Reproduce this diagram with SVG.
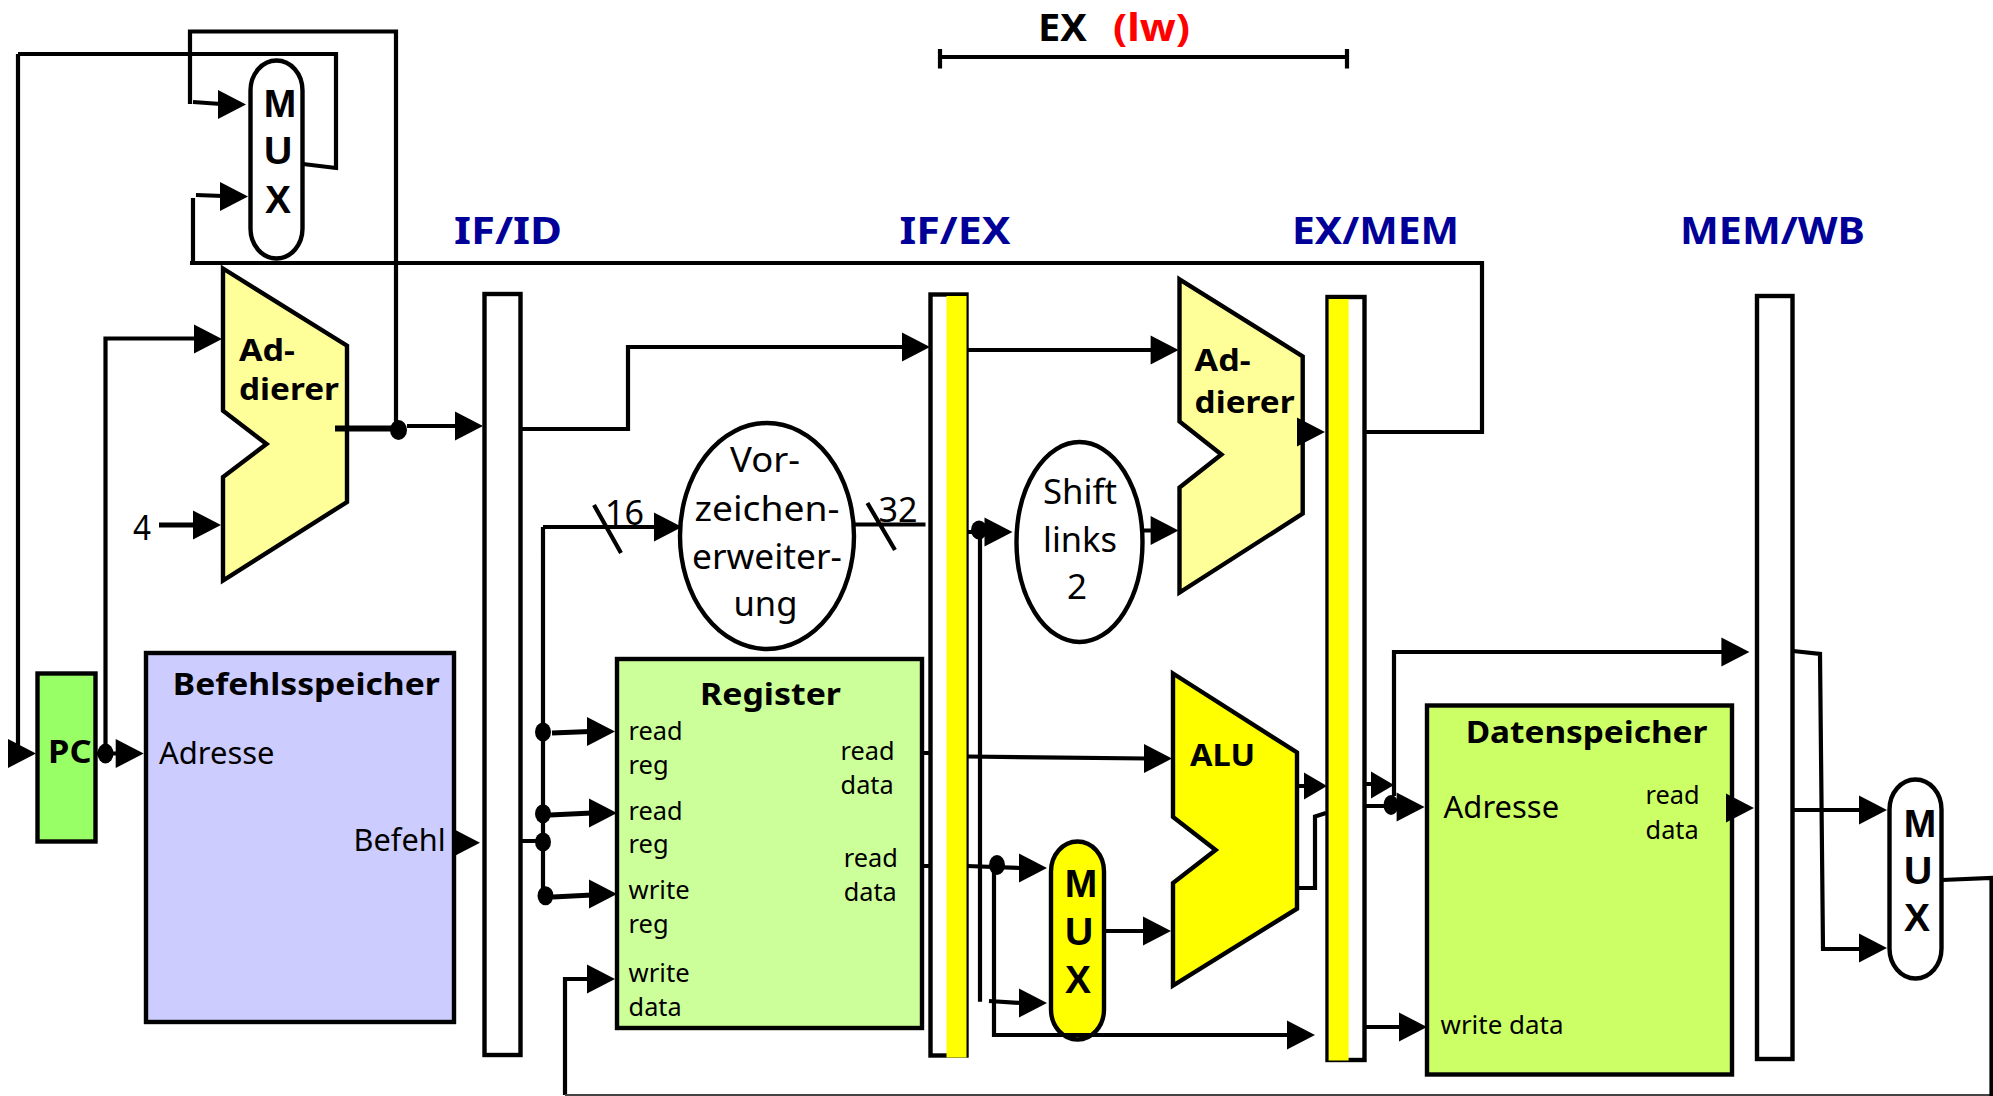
<svg xmlns="http://www.w3.org/2000/svg" width="1993" height="1096" viewBox="0 0 1993 1096">
<style>
text{font-family:"Noto Sans","Liberation Sans",sans-serif;fill:#000}
.b{font-weight:700}
.s{fill:none;stroke:#000;stroke-width:4.200}
.t{fill:none;stroke:#000;stroke-width:6}
.n{stroke:#000;stroke-width:4.400;fill:#fff}
.lb{font-weight:700;font-size:38px;fill:#000099}
.mx{font-family:"Liberation Sans",sans-serif;font-weight:700;font-size:39px;text-anchor:middle}
.f26{font-size:26px}
.f30{font-size:30px}
.f35{font-size:35px}
.h{font-weight:700;font-size:31px}
.c{text-anchor:middle}
.dot{fill:#000}
</style>
<defs>
<polygon id="ah" points="-28,-14.500 0,0 -28,14.500" fill="#000"/>
<polygon id="ahs" points="-23,-13.500 0,0 -23,13.500" fill="#000"/>
</defs>
<rect width="1993" height="1096" fill="#fff"/>

<g id="phase-ex">
<text class="b" x="1038" y="41" font-size="38" textLength="49" lengthAdjust="spacingAndGlyphs">EX</text>
<text class="b" x="1113" y="41" font-size="38" textLength="77" lengthAdjust="spacingAndGlyphs" style="fill:#ff0000">(lw)</text>
<path class="s" d="M940 57H1347M940 49V68.500M1347 49V68.500"/>
</g>

<g id="label-if-id"><text class="lb" x="454" y="243.500" textLength="108" lengthAdjust="spacingAndGlyphs">IF/ID</text></g>
<g id="label-if-ex"><text class="lb" x="899.500" y="243.500" textLength="111" lengthAdjust="spacingAndGlyphs">IF/EX</text></g>
<g id="label-ex-mem"><text class="lb" x="1292" y="243.500" textLength="167" lengthAdjust="spacingAndGlyphs">EX/MEM</text></g>
<g id="label-mem-wb"><text class="lb" x="1680" y="243.500" textLength="185" lengthAdjust="spacingAndGlyphs">MEM/WB</text></g>

<g id="mux-pc">
<rect class="n" x="250.500" y="60.500" width="52" height="198" rx="26" ry="30"/>
<text class="mx" x="280" y="117">M</text><text class="mx" x="278" y="164">U</text><text class="mx" x="278" y="212.500">X</text>
</g>

<g id="adder-if">
<polygon class="n" style="fill:#ffff99" points="223,268.500 347,345.700 347,502 223,580.500 223,477 266.500,444 223,410.700"/>
<text class="h" x="239" y="360.700" textLength="56" lengthAdjust="spacingAndGlyphs">Ad-</text>
<text class="h" x="239" y="400" textLength="100" lengthAdjust="spacingAndGlyphs">dierer</text>
</g>

<g id="pc">
<rect class="n" style="fill:#99ff66" x="37.500" y="673.500" width="58" height="168"/>
<text class="b" x="48" y="763.400" font-size="32" textLength="43.500" lengthAdjust="spacingAndGlyphs">PC</text>
</g>

<g id="befehlsspeicher">
<rect class="n" style="fill:#ccccff" x="146" y="653" width="308" height="369"/>
<text class="h" x="172.800" y="695" textLength="267" lengthAdjust="spacingAndGlyphs">Befehlsspeicher</text>
<text class="f30" x="159" y="764.400" textLength="115.500" lengthAdjust="spacingAndGlyphs">Adresse</text>
<text class="f30" x="353.600" y="851" textLength="92" lengthAdjust="spacingAndGlyphs">Befehl</text>
</g>

<g id="reg-if-id"><rect class="n" x="484.500" y="294" width="36" height="761"/></g>

<g id="vorzeichen">
<ellipse class="n" cx="767" cy="536" rx="87" ry="113"/>
<text class="f35" x="730" y="472" textLength="70" lengthAdjust="spacingAndGlyphs">Vor-</text>
<text class="f35" x="694.500" y="520.500" textLength="145" lengthAdjust="spacingAndGlyphs">zeichen-</text>
<text class="f35" x="692" y="568.500" textLength="150" lengthAdjust="spacingAndGlyphs">erweiter-</text>
<text class="f35" x="733.500" y="616" textLength="64" lengthAdjust="spacingAndGlyphs">ung</text>
</g>

<g id="register">
<rect class="n" style="fill:#ccff99" x="617" y="659" width="305" height="369"/>
<text class="h" x="700" y="704.600" textLength="141" lengthAdjust="spacingAndGlyphs">Register</text>
<text class="f26" x="628.600" y="739.500" textLength="54" lengthAdjust="spacingAndGlyphs">read</text>
<text class="f26" x="628.600" y="773.700" textLength="40" lengthAdjust="spacingAndGlyphs">reg</text>
<text class="f26" x="628.600" y="820" textLength="54" lengthAdjust="spacingAndGlyphs">read</text>
<text class="f26" x="628.600" y="853.300" textLength="40" lengthAdjust="spacingAndGlyphs">reg</text>
<text class="f26" x="628.600" y="899" textLength="61" lengthAdjust="spacingAndGlyphs">write</text>
<text class="f26" x="628.600" y="933" textLength="40" lengthAdjust="spacingAndGlyphs">reg</text>
<text class="f26" x="628.600" y="982" textLength="61" lengthAdjust="spacingAndGlyphs">write</text>
<text class="f26" x="628.600" y="1016" textLength="53" lengthAdjust="spacingAndGlyphs">data</text>
<text class="f26" x="840.600" y="760" textLength="54" lengthAdjust="spacingAndGlyphs">read</text>
<text class="f26" x="840.600" y="794" textLength="53" lengthAdjust="spacingAndGlyphs">data</text>
<text class="f26" x="843.800" y="866.700" textLength="54" lengthAdjust="spacingAndGlyphs">read</text>
<text class="f26" x="843.800" y="901" textLength="53" lengthAdjust="spacingAndGlyphs">data</text>
</g>

<g id="reg-if-ex">
<rect class="n" x="930.500" y="294.500" width="36" height="761"/>
<rect x="946.500" y="296" width="20" height="761.500" fill="#ffff00"/>
</g>

<g id="shift">
<ellipse class="n" cx="1079.500" cy="542" rx="63" ry="100"/>
<text class="f35" x="1043" y="504.300" textLength="74" lengthAdjust="spacingAndGlyphs">Shift</text>
<text class="f35" x="1043" y="552" textLength="74" lengthAdjust="spacingAndGlyphs">links</text>
<text class="f35 c" x="1077" y="599">2</text>
</g>

<g id="adder-ex">
<polygon class="n" style="fill:#ffff99" points="1179.500,279.300 1302.700,356.400 1302.700,513.600 1179.500,592.500 1179.500,487.500 1221.400,454.600 1179.500,421.400"/>
<text class="h" x="1194.600" y="371.400" textLength="56" lengthAdjust="spacingAndGlyphs">Ad-</text>
<text class="h" x="1194.600" y="412.500" textLength="100" lengthAdjust="spacingAndGlyphs">dierer</text>
</g>

<g id="alu">
<polygon class="n" style="fill:#ffff00" points="1173,673.500 1297,752.500 1297,908.700 1173,985.600 1173,883 1215.600,850 1173,817"/>
<text class="h" x="1190" y="766" font-size="32" textLength="65" lengthAdjust="spacingAndGlyphs">ALU</text>
</g>

<g id="mux-alu">
<rect class="n" style="fill:#ffff00" x="1051" y="841.500" width="53" height="198" rx="26.500" ry="30"/>
<text class="mx" x="1081" y="897.400">M</text><text class="mx" x="1079" y="945">U</text><text class="mx" x="1078" y="993">X</text>
</g>

<g id="reg-ex-mem">
<rect class="n" x="1327.500" y="297" width="37" height="763"/>
<rect x="1328.600" y="299" width="20" height="761.500" fill="#ffff00"/>
</g>

<g id="datenspeicher">
<rect class="n" style="fill:#ccff66" x="1427" y="705.500" width="305" height="369"/>
<text class="h" x="1465.700" y="743" textLength="241.700" lengthAdjust="spacingAndGlyphs">Datenspeicher</text>
<text class="f30" x="1443.600" y="818" textLength="115.500" lengthAdjust="spacingAndGlyphs">Adresse</text>
<text class="f26" x="1645.600" y="804.400" textLength="54" lengthAdjust="spacingAndGlyphs">read</text>
<text class="f26" x="1645.600" y="838.600" textLength="53" lengthAdjust="spacingAndGlyphs">data</text>
<text class="f26" x="1440.500" y="1033.500" textLength="123" lengthAdjust="spacingAndGlyphs">write data</text>
</g>

<g id="reg-mem-wb"><rect class="n" x="1757" y="296" width="35.500" height="763"/></g>

<g id="mux-wb">
<rect class="n" x="1889.500" y="779.500" width="52" height="199" rx="26" ry="30"/>
<text class="mx" x="1920" y="837">M</text><text class="mx" x="1918" y="884">U</text><text class="mx" x="1917" y="931">X</text>
</g>

<g id="constant-labels">
<text class="f35" x="133" y="540" textLength="18" lengthAdjust="spacingAndGlyphs">4</text>
<text class="f35" x="605" y="525" textLength="39" lengthAdjust="spacingAndGlyphs">16</text>
<text class="f35" x="878.600" y="522" textLength="39" lengthAdjust="spacingAndGlyphs">32</text>
</g>

<g id="connectors">
<path class="s" d="M190 31.500H396V428M190 29.500V104M193 102L221 104"/>
<path class="s" d="M18 54H336V168L303 164M18 54V753H12"/>
<path class="s" d="M193 262V198M196 195L223 196"/>
<path class="s" d="M190 263H1482V432H1365"/>
<path class="s" d="M105.500 753.500V338.500H197M96 753.500H118"/>
<path class="t" d="M335 428.500H392"/>
<path class="s" d="M407 426H459M521 429H628V347H905"/>
<path class="t" style="stroke-width:5" d="M159 525H195"/>
<path class="s" d="M521 841H543M543 527V896M543 527H656M594 505L621 553"/>
<path class="t" style="stroke-width:5" d="M552 733L590 731.500M550 815L592 813M553 897L592 895"/>
<path class="s" d="M854 524.500H925.500M867.400 503L895 550"/>
<path class="s" d="M565 1095V979H590"/>
<path class="s" style="stroke:#444;stroke-width:2" d="M565 1095H1993"/>
<path class="s" d="M967 350H1153M967 532H987M980 530V1001.700M1143 530.500H1153"/>
<path class="s" d="M922 753H930M922 866H930M967 756.500L1147 758.500M967 866L1020 868"/>
<path class="s" d="M994 870V1035H1288M989 1001L1021 1003"/>
<path class="s" d="M1104 931H1145M1297 786H1306M1297 888H1315V816.500L1326 813"/>
<path class="s" d="M1365 784H1372M1394 796V652H1723M1365 806H1398M1365 1027H1401"/>
<path class="s" d="M1793 651L1820 654L1823 949H1861M1793 810H1861M1942 880L1991.500 878V1096"/>

<use href="#ah" x="246" y="104.500"/>
<use href="#ah" x="248" y="196.500"/>
<use href="#ah" x="222" y="339"/>
<use href="#ah" x="483" y="426"/>
<use href="#ah" x="221" y="525"/>
<use href="#ah" x="36" y="753.500"/>
<use href="#ah" x="143.700" y="753.500"/>
<use href="#ah" x="480" y="842.700"/>
<use href="#ah" x="682" y="527"/>
<use href="#ah" x="615" y="731.600"/>
<use href="#ah" x="617" y="813"/>
<use href="#ah" x="617" y="894"/>
<use href="#ah" x="615" y="979"/>
<use href="#ah" x="930" y="347"/>
<use href="#ah" x="1178.600" y="350"/>
<use href="#ah" x="1012.500" y="532"/>
<use href="#ah" x="1178.600" y="530.500"/>
<use href="#ah" x="1172" y="758.600"/>
<use href="#ah" x="1047" y="868"/>
<use href="#ah" x="1047" y="1003"/>
<use href="#ah" x="1171" y="931"/>
<use href="#ah" x="1315" y="1035"/>
<use href="#ah" x="1325" y="432"/>
<use href="#ahs" x="1327" y="786"/>
<use href="#ahs" x="1394" y="785"/>
<use href="#ah" x="1424.600" y="807"/>
<use href="#ah" x="1427" y="1027"/>
<use href="#ah" x="1749.400" y="652"/>
<use href="#ah" x="1754" y="808"/>
<use href="#ah" x="1887" y="810"/>
<use href="#ah" x="1887" y="948"/>

<ellipse class="dot" cx="398.500" cy="430" rx="8.500" ry="10"/>
<ellipse class="dot" cx="105.500" cy="753.500" rx="8" ry="10"/>
<ellipse class="dot" cx="543" cy="732" rx="8" ry="9.500"/>
<ellipse class="dot" cx="543" cy="813.700" rx="8" ry="9.500"/>
<ellipse class="dot" cx="543" cy="842" rx="8" ry="9.500"/>
<ellipse class="dot" cx="545.500" cy="895.700" rx="8" ry="9.500"/>
<ellipse class="dot" cx="979" cy="530" rx="8" ry="9.500"/>
<ellipse class="dot" cx="997" cy="865" rx="8" ry="10"/>
<ellipse class="dot" cx="1391" cy="805" rx="7.500" ry="10"/>
</g>
</svg>
